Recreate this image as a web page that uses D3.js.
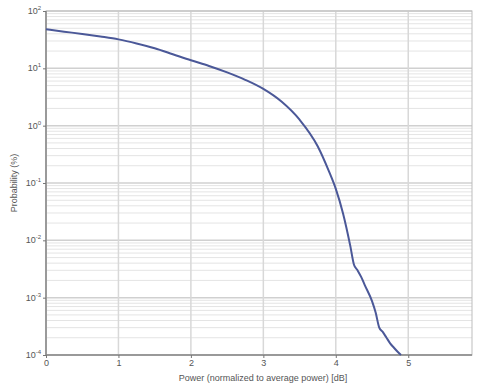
<!DOCTYPE html>
<html><head><meta charset="utf-8">
<script src="https://cdn.jsdelivr.net/npm/d3@7"></script>
<style>body{margin:0;background:#fff}svg{display:block}</style>
</head><body>
<script>
// Data (power in dB, probability in %)
const powerDb = [0, 0.25, 0.5, 0.75, 1.0, 1.25, 1.5, 1.75, 2.0, 2.25, 2.5, 2.75, 3.0, 3.25, 3.5, 3.75, 3.9, 4.0, 4.1, 4.2, 4.25, 4.3, 4.35, 4.4, 4.5, 4.55, 4.6, 4.65, 4.7, 4.75, 4.8, 4.85, 4.9];
const probPct = [47.9, 43.6, 39.8, 35.9, 32, 27.2, 22.4, 17.6, 13.8, 11.0, 8.5, 6.3, 4.37, 2.63, 1.27, 0.437, 0.166, 0.079, 0.0295, 0.008, 0.0038, 0.003, 0.0023, 0.00166, 0.00087, 0.00055, 0.0003, 0.00025, 0.0002, 0.00016, 0.000135, 0.000115, 0.0001];
const xTicks = [0, 1, 2, 3, 4, 5];
const yExps = [2, 1, 0, -1, -2, -3, -4];
const xTitle = "Power (normalized to average power) [dB]";
const yTitle = "Probability (%)";

const W = 477, H = 389;
const m = {left: 46, top: 11, right: 5, bottom: 34};
const svg = d3.select("body").append("svg").attr("width", W).attr("height", H);
const x = d3.scaleLinear().domain([0, 5.88]).range([m.left, W - m.right]);
const y = d3.scaleLog().domain([1e-4, 1e2]).range([H - m.bottom, m.top]);
const FONT = "Liberation Sans, Arial, sans-serif";

const g = svg.append("g");
// minor grid
const minor = [];
for (let e = -4; e < 2; e++) for (let k = 2; k <= 9; k++) minor.push(k * Math.pow(10, e));
g.selectAll(".mn").data(minor).enter().append("line")
  .attr("x1", x.range()[0]).attr("x2", x.range()[1])
  .attr("y1", d => y(d)).attr("y2", d => y(d))
  .attr("stroke", "#e4e4e4").attr("stroke-width", 1);
// major grid
g.selectAll(".mj").data(yExps).enter().append("line")
  .attr("x1", x.range()[0]).attr("x2", x.range()[1])
  .attr("y1", d => y(Math.pow(10, d))).attr("y2", d => y(Math.pow(10, d)))
  .attr("stroke", "#d0d0d0").attr("stroke-width", 1.5);
g.selectAll(".vx").data(xTicks).enter().append("line")
  .attr("x1", d => x(d)).attr("x2", d => x(d))
  .attr("y1", y.range()[0]).attr("y2", y.range()[1])
  .attr("stroke", "#d8d8d8").attr("stroke-width", 1.5);

// box
svg.append("rect").attr("x", m.left).attr("y", m.top)
  .attr("width", x.range()[1] - m.left).attr("height", y.range()[0] - m.top)
  .attr("fill", "none").attr("stroke", "#bdbdbd").attr("stroke-width", 1);
svg.append("line").attr("x1", m.left).attr("x2", m.left).attr("y1", m.top).attr("y2", y.range()[0])
  .attr("stroke", "#888").attr("stroke-width", 1.5);
svg.append("line").attr("x1", m.left).attr("x2", x.range()[1]).attr("y1", y.range()[0]).attr("y2", y.range()[0])
  .attr("stroke", "#888").attr("stroke-width", 1.5);

// axes
const xAxis = d3.axisBottom(x).tickValues(xTicks).tickSize(3).tickPadding(2).tickFormat(d3.format("d"));
const xa = svg.append("g").attr("transform", `translate(0,${y.range()[0]})`).call(xAxis);
xa.select(".domain").remove();
xa.selectAll("line").attr("stroke", "#777");
xa.selectAll("text").attr("font-family", FONT)
  .attr("font-size", 9).attr("fill", "#555").attr("dy", "0.7em");

const ya = svg.append("g").attr("transform", `translate(${m.left},0)`)
  .call(d3.axisLeft(y).tickValues(yExps.map(e => Math.pow(10, e))).tickSize(3).tickFormat(""));
ya.select(".domain").remove();
ya.selectAll("line").attr("stroke", "#777");
const yl = svg.append("g").selectAll("text").data(yExps).enter().append("text")
  .attr("x", m.left - 5).attr("y", d => y(Math.pow(10, d)) + 3)
  .attr("text-anchor", "end")
  .attr("font-family", FONT).attr("font-size", 9).attr("fill", "#555");
yl.append("tspan").text("10");
yl.append("tspan").attr("dy", -4).attr("font-size", 6).text(d => d);

// titles
svg.append("text").attr("x", (m.left + x.range()[1]) / 2 + 4).attr("y", H - 8)
  .attr("text-anchor", "middle").attr("font-family", FONT)
  .attr("font-size", 9).attr("fill", "#555").text(xTitle);
svg.append("text").attr("transform", `translate(17,${(m.top + y.range()[0]) / 2})rotate(-90)`)
  .attr("text-anchor", "middle").attr("font-family", FONT)
  .attr("font-size", 9).attr("fill", "#555").text(yTitle);

// curve
const data = powerDb.map((p, i) => [p, probPct[i]]);
svg.append("path").datum(data)
  .attr("d", d3.line().x(d => x(d[0])).y(d => y(d[1])).curve(d3.curveMonotoneX))
  .attr("fill", "none").attr("stroke", "#4b5898").attr("stroke-width", 2);
</script>
</body></html>
